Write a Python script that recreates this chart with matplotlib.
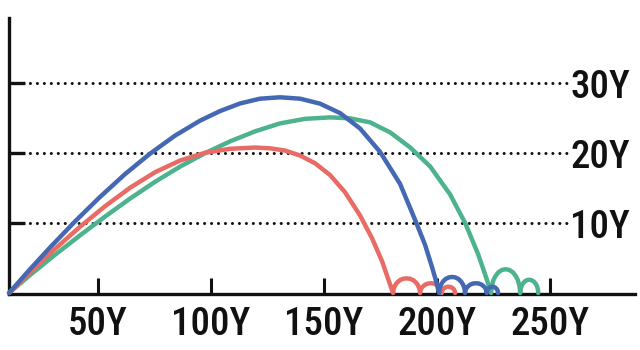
import matplotlib
matplotlib.use("Agg")
from matplotlib import pyplot as plt
from matplotlib import font_manager

# trajectories (x and height in "Y" units), bounces included
red_x = [10.75, 20.04, 31.11, 42.17, 53.23, 64.29, 75.35, 86.42, 97.48, 108.54, 119.60,
         126.24, 132.88, 139.51, 146.15, 152.79, 159.42, 166.06, 171.37, 175.80, 178.89, 180.66,
         180.90, 181.62, 182.45, 183.65, 185.14, 186.63, 188.12, 189.62, 190.81, 191.64, 192.36, 192.6,
         192.79, 193.37, 194.04, 195.0, 196.2, 197.4, 198.6, 199.8, 200.76, 201.43, 202.01, 202.2,
         202.32, 202.67, 203.09, 203.68, 204.41, 205.15, 205.89, 206.63, 207.22, 207.63, 207.98, 208.1]
red_y = [0, 2.94, 6.30, 9.47, 12.40, 15.04, 17.26, 18.93, 20.04, 20.61, 20.79,
         20.68, 20.36, 19.65, 18.54, 16.86, 14.40, 11.08, 7.82, 4.54, 1.64, 0,
         0.59, 1.13, 1.49, 1.83, 2.04, 2.1, 2.04, 1.83, 1.49, 1.13, 0.59, 0,
         0.39, 0.76, 0.99, 1.22, 1.36, 1.4, 1.36, 1.22, 0.99, 0.76, 0.39, 0,
         0.25, 0.49, 0.64, 0.78, 0.87, 0.9, 0.87, 0.78, 0.64, 0.49, 0.25, 0]

blue_x = [10.75, 20.04, 28.89, 39.96, 51.02, 62.08, 73.14, 84.20, 95.27, 104.12, 112.97, 121.81,
          130.66, 139.51, 148.36, 157.21, 166.06, 174.91, 183.76, 190.40, 194.82, 197.92, 199.69, 201.02,
          201.25, 201.94, 202.74, 203.89, 205.33, 206.76, 208.20, 209.63, 210.78, 211.58, 212.27, 212.5,
          212.69, 213.27, 213.94, 214.9, 216.1, 217.3, 218.5, 219.7, 220.66, 221.33, 221.91, 222.1,
          222.2, 222.5, 222.85, 223.35, 223.98, 224.6, 225.23, 225.85, 226.35, 226.7, 227.0, 227.1]
blue_y = [0, 3.39, 6.50, 10.23, 13.73, 16.99, 19.91, 22.49, 24.63, 26.00, 27.09, 27.77,
          27.97, 27.77, 27.06, 25.71, 23.51, 20.17, 15.60, 10.46, 6.89, 3.69, 1.71, 0,
          0.64, 1.24, 1.63, 2.0, 2.23, 2.3, 2.23, 2.0, 1.63, 1.24, 0.64, 0,
          0.39, 0.76, 0.99, 1.22, 1.36, 1.4, 1.36, 1.22, 0.99, 0.76, 0.39, 0,
          0.25, 0.49, 0.64, 0.78, 0.87, 0.9, 0.87, 0.78, 0.64, 0.49, 0.25, 0]

green_x = [10.75, 20.04, 31.11, 42.17, 53.23, 64.29, 75.35, 86.42, 97.48, 108.54, 119.60, 130.66,
           141.73, 152.79, 161.64, 170.49, 179.34, 188.19, 197.04, 205.88, 212.52, 218.27, 221.81, 224.03,
           224.29, 225.06, 225.96, 227.25, 228.86, 230.47, 232.07, 233.68, 234.97, 235.87, 236.64, 236.9,
           237.06, 237.54, 238.1, 238.9, 239.9, 240.9, 241.9, 242.9, 243.7, 244.26, 244.74, 244.9]
green_y = [0, 2.56, 5.46, 8.24, 10.92, 13.49, 15.89, 18.06, 19.99, 21.67, 23.10, 24.24,
           24.89, 25.10, 24.96, 24.39, 22.96, 20.81, 18.10, 14.10, 10.03, 5.57, 2.26, 0,
           0.95, 1.84, 2.41, 2.96, 3.30, 3.4, 3.30, 2.96, 2.41, 1.84, 0.95, 0,
           0.53, 1.03, 1.35, 1.65, 1.84, 1.9, 1.84, 1.65, 1.35, 1.03, 0.53, 0]

x_ticks = [50, 100, 150, 200, 250]
x_labels = ["50Y", "100Y", "150Y", "200Y", "250Y"]
y_ticks = [10, 20, 30]
y_labels = ["10Y", "20Y", "30Y"]


def pick_font():
    fonts = font_manager.fontManager.ttflist
    names = {f.name for f in fonts}
    for n in ["Roboto Condensed", "Liberation Sans Narrow", "DejaVu Sans Condensed"]:
        if n in names:
            return n, "normal"
    for f in fonts:
        if f.name == "DejaVu Sans" and "condensed" in str(f.stretch):
            return "DejaVu Sans", "condensed"
    return "Roboto", "normal"


family, stretch = pick_font()
plt.rcParams["font.family"] = [family, "DejaVu Sans"]
plt.rcParams["font.stretch"] = stretch
plt.rcParams["font.weight"] = "medium"

fig = plt.figure(figsize=(6.4, 3.5), dpi=100)
ax = fig.add_axes([9 / 640, 56 / 350, 626 / 640, 276 / 350])

# dotted guide lines stop short of the right-hand labels
ax.hlines(y_ticks, 10.75, 258.5, colors="#111111", linewidth=2.2,
          linestyles=(0, (0.01, 2.27)), capstyle="round", zorder=1)

lw = 3.2
for xs, ys, c, z in [(green_x, green_y, "#4cb38c", 3),
                     (red_x, red_y, "#e86c65", 4),
                     (blue_x, blue_y, "#4568b2", 5)]:
    ax.plot(xs, ys, color=c, lw=lw, solid_joinstyle="round",
            solid_capstyle="round", clip_on=False, zorder=z)

ax.set_xlim(10.75, 287.7)
ax.set_ylim(-0.14, 39.3)

for s in ["top", "right"]:
    ax.spines[s].set_visible(False)
for s in ["left", "bottom"]:
    ax.spines[s].set_linewidth(2.4)
    ax.spines[s].set_color("#111111")

ax.set_xticks(x_ticks, x_labels)
ax.set_yticks(y_ticks, y_labels)
ax.tick_params(axis="x", direction="in", length=11.3, width=2.2, color="#111111",
               labelsize=28, pad=8.5, labelcolor="#111111")
ax.tick_params(axis="y", direction="in", length=11.5, width=2.4, color="#111111",
               labelsize=28, labelleft=False, labelright=True, right=False, pad=-46.5,
               labelcolor="#111111")

fig.savefig("out.png", dpi=100)
